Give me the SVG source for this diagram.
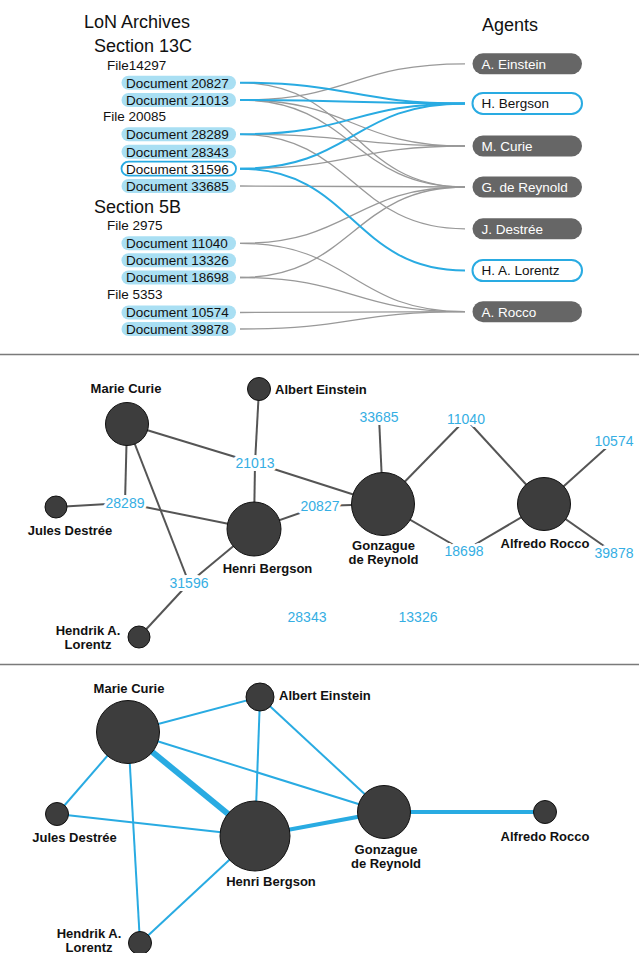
<svg xmlns="http://www.w3.org/2000/svg" width="639" height="953" viewBox="0 0 639 953">
<style>
text{font-family:"Liberation Sans",Arial,sans-serif}
.h{font-size:18px;fill:#111}
.f{font-size:13.5px;fill:#111}
.doc{fill:#a9dff3}
.docsel{fill:#fff;stroke:#29abe2;stroke-width:1.8}
.dt{font-size:13.5px;fill:#111}
.ag{fill:#666}
.agsel{fill:#fff;stroke:#29abe2;stroke-width:2}
.at{font-size:13.5px;fill:#fff}
.ats{font-size:13.5px;fill:#111}
.cg{fill:none;stroke:#999;stroke-width:1.3}
.cb{fill:none;stroke:#29abe2;stroke-width:2}
.sep{stroke:#7a7a7a;stroke-width:1.5}
.e1{stroke:#555;stroke-width:2}
.e2{stroke:#29abe2}
.n{fill:#3d3d3d;stroke:#111;stroke-width:1}
.nl{font-size:13px;font-weight:bold;fill:#111;text-anchor:middle}
.nll{font-size:13px;font-weight:bold;fill:#111}
.dl{font-size:14px;fill:#35aee3;text-anchor:middle;stroke:#fff;stroke-width:6;stroke-linejoin:round;paint-order:stroke}
</style>

<!-- ===== Top: archive / agents ===== -->
<g id="titles">
<text class="h" x="84" y="28">LoN Archives</text>
<text class="h" x="94" y="52">Section 13C</text>
<text class="f" x="107" y="69.5">File14297</text>
<text class="f" x="103" y="121">File 20085</text>
<text class="h" x="94" y="212.7">Section 5B</text>
<text class="f" x="107" y="230">File 2975</text>
<text class="f" x="107" y="299.3">File 5353</text>
<text class="h" x="482" y="30.5">Agents</text>
</g>

<g id="archive-connectors">
<path class="cg" d="M240,82.7 C352.5,82.7 352.5,187 465,187"/>
<path class="cg" d="M240,100 C352.5,100 352.5,63.8 465,63.8"/>
<path class="cg" d="M240,100 C352.5,100 352.5,146 465,146"/>
<path class="cg" d="M240,100 C352.5,100 352.5,187 465,187"/>
<path class="cg" d="M240,134.3 C352.5,134.3 352.5,146 465,146"/>
<path class="cg" d="M240,134.3 C352.5,134.3 352.5,228.8 465,228.8"/>
<path class="cg" d="M240,168.7 C352.5,168.7 352.5,146 465,146"/>
<path class="cg" d="M240,186 C352.5,186 352.5,187 465,187"/>
<path class="cg" d="M240,243.3 C352.5,243.3 352.5,187 465,187"/>
<path class="cg" d="M240,243.3 C352.5,243.3 352.5,311.7 465,311.7"/>
<path class="cg" d="M240,277.5 C352.5,277.5 352.5,187 465,187"/>
<path class="cg" d="M240,277.5 C352.5,277.5 352.5,311.7 465,311.7"/>
<path class="cg" d="M240,312.5 C352.5,312.5 352.5,311.7 465,311.7"/>
<path class="cg" d="M240,329 C352.5,329 352.5,311.7 465,311.7"/>
<path class="cb" d="M240,82.7 C352.5,82.7 352.5,103.4 465,103.4"/>
<path class="cb" d="M240,100 C352.5,100 352.5,103.4 465,103.4"/>
<path class="cb" d="M240,134.3 C352.5,134.3 352.5,103.4 465,103.4"/>
<path class="cb" d="M240,168.7 C352.5,168.7 352.5,103.4 465,103.4"/>
<path class="cb" d="M240,168.7 C352.5,168.7 352.5,270.5 465,270.5"/>
</g>

<g id="doc-20827"><rect class="doc" x="121.5" y="75.7" width="114.5" height="14" rx="7"/><text class="dt" x="126" y="87.5">Document 20827</text></g>
<g id="doc-21013"><rect class="doc" x="121.5" y="93" width="114.5" height="14" rx="7"/><text class="dt" x="126" y="104.8">Document 21013</text></g>
<g id="doc-28289"><rect class="doc" x="121.5" y="127.3" width="114.5" height="14" rx="7"/><text class="dt" x="126" y="139.1">Document 28289</text></g>
<g id="doc-28343"><rect class="doc" x="121.5" y="144.7" width="114.5" height="14" rx="7"/><text class="dt" x="126" y="156.5">Document 28343</text></g>
<g id="doc-31596"><rect class="docsel" x="121.5" y="161.7" width="114.5" height="14" rx="7"/><text class="dt" x="126" y="173.5">Document 31596</text></g>
<g id="doc-33685"><rect class="doc" x="121.5" y="179" width="114.5" height="14" rx="7"/><text class="dt" x="126" y="190.8">Document 33685</text></g>
<g id="doc-11040"><rect class="doc" x="121.5" y="236.3" width="114.5" height="14" rx="7"/><text class="dt" x="126" y="248.1">Document 11040</text></g>
<g id="doc-13326"><rect class="doc" x="121.5" y="253.3" width="114.5" height="14" rx="7"/><text class="dt" x="126" y="265.1">Document 13326</text></g>
<g id="doc-18698"><rect class="doc" x="121.5" y="270.5" width="114.5" height="14" rx="7"/><text class="dt" x="126" y="282.3">Document 18698</text></g>
<g id="doc-10574"><rect class="doc" x="121.5" y="305.5" width="114.5" height="14" rx="7"/><text class="dt" x="126" y="317.3">Document 10574</text></g>
<g id="doc-39878"><rect class="doc" x="121.5" y="322" width="114.5" height="14" rx="7"/><text class="dt" x="126" y="333.8">Document 39878</text></g>

<g id="agent-einstein"><rect class="ag" x="472.5" y="53.3" width="109.5" height="21" rx="10.5"/><text class="at" x="481.5" y="68.6">A. Einstein</text></g>
<g id="agent-bergson"><rect class="agsel" x="472.5" y="92.9" width="109.5" height="21" rx="10.5"/><text class="ats" x="481.5" y="108.2">H. Bergson</text></g>
<g id="agent-curie"><rect class="ag" x="472.5" y="135.5" width="109.5" height="21" rx="10.5"/><text class="at" x="481.5" y="150.8">M. Curie</text></g>
<g id="agent-dereynold"><rect class="ag" x="472.5" y="176.5" width="109.5" height="21" rx="10.5"/><text class="at" x="481.5" y="191.8">G. de Reynold</text></g>
<g id="agent-destree"><rect class="ag" x="472.5" y="218.3" width="109.5" height="21" rx="10.5"/><text class="at" x="481.5" y="233.6">J. Destrée</text></g>
<g id="agent-lorentz"><rect class="agsel" x="472.5" y="260" width="109.5" height="21" rx="10.5"/><text class="ats" x="481.5" y="275.3">H. A. Lorentz</text></g>
<g id="agent-rocco"><rect class="ag" x="472.5" y="301.2" width="109.5" height="21" rx="10.5"/><text class="at" x="481.5" y="316.5">A. Rocco</text></g>

<g id="separators">
<line class="sep" x1="0" y1="354.5" x2="639" y2="354.5"/>
<line class="sep" x1="0" y1="664.5" x2="639" y2="664.5"/>
</g>

<!-- ===== Middle: bipartite graph ===== -->
<g id="bipartite-connectors">
<line class="e1" x1="127" y1="424" x2="255" y2="463"/>
<line class="e1" x1="259" y1="389" x2="255" y2="463"/>
<line class="e1" x1="255" y1="463" x2="254" y2="529"/>
<line class="e1" x1="255" y1="463" x2="383" y2="504"/>
<line class="e1" x1="127" y1="424" x2="125" y2="503"/>
<line class="e1" x1="56" y1="507" x2="125" y2="503"/>
<line class="e1" x1="125" y1="503" x2="254" y2="529"/>
<line class="e1" x1="127" y1="424" x2="189" y2="583"/>
<line class="e1" x1="189" y1="583" x2="254" y2="529"/>
<line class="e1" x1="189" y1="583" x2="139" y2="637"/>
<line class="e1" x1="254" y1="529" x2="320" y2="506"/>
<line class="e1" x1="320" y1="506" x2="383" y2="504"/>
<line class="e1" x1="383" y1="504" x2="379" y2="417"/>
<line class="e1" x1="383" y1="504" x2="466" y2="419"/>
<line class="e1" x1="466" y1="419" x2="544" y2="504"/>
<line class="e1" x1="383" y1="504" x2="464" y2="551"/>
<line class="e1" x1="464" y1="551" x2="544" y2="504"/>
<line class="e1" x1="544" y1="504" x2="614" y2="441"/>
<line class="e1" x1="544" y1="504" x2="614" y2="553"/>
</g>

<g id="bp-curie"><circle class="n" cx="127" cy="424" r="21.5"/><text class="nl" x="126" y="392.5">Marie Curie</text></g>
<g id="bp-einstein"><circle class="n" cx="259" cy="389" r="11.5"/><text class="nll" x="275" y="393.5">Albert Einstein</text></g>
<g id="bp-destree"><circle class="n" cx="56" cy="507" r="11"/><text class="nl" x="70" y="535">Jules Destrée</text></g>
<g id="bp-bergson"><circle class="n" cx="254" cy="529" r="27"/><text class="nl" x="267.5" y="572.5">Henri Bergson</text></g>
<g id="bp-lorentz"><circle class="n" cx="139" cy="637" r="11"/><text class="nl" x="88" y="634.5">Hendrik A.</text><text class="nl" x="88" y="648.5">Lorentz</text></g>
<g id="bp-dereynold"><circle class="n" cx="383" cy="504" r="31.5"/><text class="nl" x="383.5" y="550">Gonzague</text><text class="nl" x="383.5" y="564">de Reynold</text></g>
<g id="bp-rocco"><circle class="n" cx="544" cy="504" r="26.5"/><text class="nl" x="545" y="548">Alfredo Rocco</text></g>

<g id="bp-doc-21013"><text class="dl" x="255" y="468">21013</text></g>
<g id="bp-doc-28289"><text class="dl" x="125" y="508">28289</text></g>
<g id="bp-doc-20827"><text class="dl" x="320" y="511">20827</text></g>
<g id="bp-doc-31596"><text class="dl" x="189" y="588">31596</text></g>
<g id="bp-doc-28343"><text class="dl" x="307" y="622">28343</text></g>
<g id="bp-doc-33685"><text class="dl" x="379" y="422">33685</text></g>
<g id="bp-doc-11040"><text class="dl" x="466" y="424">11040</text></g>
<g id="bp-doc-10574"><text class="dl" x="614" y="446">10574</text></g>
<g id="bp-doc-18698"><text class="dl" x="464" y="556">18698</text></g>
<g id="bp-doc-39878"><text class="dl" x="614" y="558">39878</text></g>
<g id="bp-doc-13326"><text class="dl" x="418" y="622">13326</text></g>

<!-- ===== Bottom: co-occurrence graph ===== -->
<g id="cooccurrence-connectors" class="e2">
<line x1="128" y1="732" x2="260" y2="697" stroke-width="2"/>
<line x1="128" y1="732" x2="57" y2="814" stroke-width="2"/>
<line x1="128" y1="732" x2="255" y2="836" stroke-width="6"/>
<line x1="128" y1="732" x2="140" y2="943" stroke-width="2"/>
<line x1="128" y1="732" x2="384" y2="812" stroke-width="2"/>
<line x1="260" y1="697" x2="255" y2="836" stroke-width="2"/>
<line x1="260" y1="697" x2="384" y2="812" stroke-width="2"/>
<line x1="57" y1="814" x2="255" y2="836" stroke-width="2"/>
<line x1="255" y1="836" x2="140" y2="943" stroke-width="2"/>
<line x1="255" y1="836" x2="384" y2="812" stroke-width="4"/>
<line x1="384" y1="812" x2="545" y2="812" stroke-width="4"/>
</g>

<g id="co-curie"><circle class="n" cx="128" cy="732" r="31.5"/><text class="nl" x="129" y="692.5">Marie Curie</text></g>
<g id="co-einstein"><circle class="n" cx="260" cy="697" r="14"/><text class="nll" x="279" y="700">Albert Einstein</text></g>
<g id="co-destree"><circle class="n" cx="57" cy="814" r="11.5"/><text class="nl" x="74.5" y="842">Jules Destrée</text></g>
<g id="co-bergson"><circle class="n" cx="255" cy="836" r="35"/><text class="nl" x="271" y="885.5">Henri Bergson</text></g>
<g id="co-lorentz"><circle class="n" cx="140" cy="943" r="11.5"/><text class="nl" x="89" y="937.5">Hendrik A.</text><text class="nl" x="89" y="951.5">Lorentz</text></g>
<g id="co-dereynold"><circle class="n" cx="384" cy="812" r="26.5"/><text class="nl" x="386" y="853.5">Gonzague</text><text class="nl" x="386" y="867.5">de Reynold</text></g>
<g id="co-rocco"><circle class="n" cx="545" cy="812" r="11.5"/><text class="nl" x="545" y="840.5">Alfredo Rocco</text></g>
</svg>
